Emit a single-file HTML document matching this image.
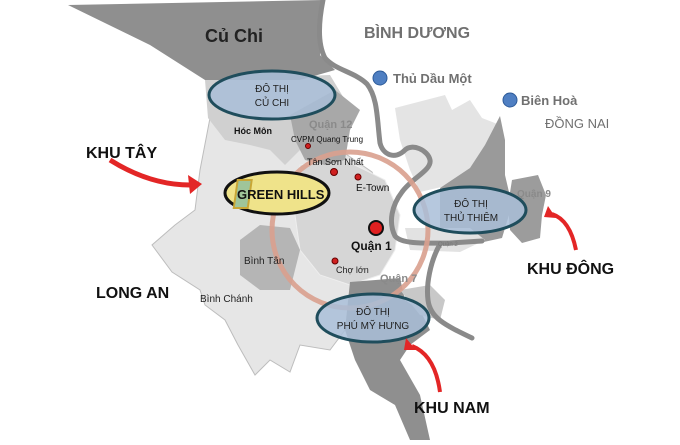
<!DOCTYPE html>
<html><head><meta charset="utf-8"><style>
body{margin:0;background:#fff}
svg{display:block}
text{font-family:"Liberation Sans",sans-serif}
</style></head><body>
<svg width="680" height="445" viewBox="0 0 680 445" xmlns="http://www.w3.org/2000/svg">
<rect width="680" height="445" fill="#fff"/>
<!-- light gray west -->
<polygon points="210,118 290,110 340,150 372,172 385,205 370,240 355,285 345,330 330,350 300,345 290,372 270,360 255,375 238,345 225,320 205,305 200,290 172,272 152,245 175,225 195,210 200,170" fill="#e6e6e6" stroke="#bdbdbd" stroke-width="1"/>
<!-- inner districts -->
<polygon points="300,165 345,160 385,180 400,215 395,250 380,275 350,285 320,275 300,250 295,215" fill="#d6d6d6" stroke="#eee" stroke-width="1"/>
<!-- Binh Tan -->
<polygon points="240,240 260,225 290,228 300,250 290,290 260,290 240,275" fill="#b5b5b5"/>
<!-- Hoc Mon / Q12 band -->
<polygon points="205,80 330,75 345,100 335,130 320,145 300,150 285,165 270,150 250,145 225,140 208,118" fill="#d0d0d0"/>
<polygon points="290,115 335,90 360,110 350,130 345,160 325,165 305,160 295,140" fill="#a8a8a8"/>
<!-- Cu Chi dark -->
<polygon points="68,5 323,0 320,55 335,70 300,80 260,80 205,80 150,45" fill="#8f8f8f"/>
<!-- NE light gray -->
<polygon points="395,108 445,95 452,110 470,100 482,118 500,125 505,150 480,160 450,185 420,192 410,170 400,140" fill="#e4e4e4"/>
<!-- Thu Duc dark -->
<polygon points="440,188 470,168 485,145 500,116 505,140 505,175 512,205 502,238 470,245 440,240" fill="#9a9a9a"/>
<!-- Quan 9 -->
<polygon points="512,180 538,175 546,195 542,215 540,238 522,243 510,230 508,205" fill="#9c9c9c"/>
<!-- Quan 2 -->
<polygon points="405,228 470,228 485,240 460,252 410,250" fill="#e2e2e2"/>
<!-- South district -->
<polygon points="350,282 400,278 405,300 420,310 430,330 410,345 400,360 420,395 430,440 410,440 395,405 370,390 355,360 345,330" fill="#8f8f8f"/>
<polygon points="400,290 430,285 445,300 440,320 420,315" fill="#c8c8c8"/>
<!-- river -->
<path d="M323,0 C318,25 318,45 325,58 C335,70 355,72 367,84 C378,98 377,120 380,143 C383,155 395,160 405,150 C412,143 428,150 430,160 C432,170 412,178 402,192 C392,205 388,222 395,236 C402,245 430,243 450,243 L482,241" fill="none" stroke="#8a8a8a" stroke-width="5" stroke-linecap="round" stroke-linejoin="round"/>
<path d="M440,244 C430,262 426,285 428,300 C430,318 445,325 472,338" fill="none" stroke="#8a8a8a" stroke-width="5" stroke-linecap="round"/>
<!-- orange ring -->
<circle cx="350" cy="230" r="78" fill="none" stroke="#d9a08e" stroke-width="5" opacity="0.9"/>
<!-- ellipses -->
<ellipse cx="272" cy="95" rx="63" ry="24" fill="#a9bed8" fill-opacity="0.85" stroke="#1f4d5c" stroke-width="3"/>
<ellipse cx="277" cy="193" rx="52" ry="21" fill="#efe38a" stroke="#111" stroke-width="3"/>
<rect x="263" y="180" width="14" height="28" fill="#9fc59a" stroke="#c8a636" stroke-width="2" transform="skewX(-8)"/>
<ellipse cx="470" cy="210" rx="56" ry="23" fill="#a9bed8" fill-opacity="0.85" stroke="#1f4d5c" stroke-width="3"/>
<ellipse cx="373" cy="318" rx="56" ry="24" fill="#a9bed8" fill-opacity="0.85" stroke="#1f4d5c" stroke-width="3"/>
<!-- dots -->
<circle cx="380" cy="78" r="7" fill="#4f7fc2" stroke="#2d5b99" stroke-width="1"/>
<circle cx="510" cy="100" r="7" fill="#4f7fc2" stroke="#2d5b99" stroke-width="1"/>
<circle cx="376" cy="228" r="7" fill="#e02020" stroke="#111" stroke-width="2"/>
<circle cx="334" cy="172" r="3.5" fill="#d02020" stroke="#600" stroke-width="1"/>
<circle cx="358" cy="177" r="3" fill="#d02020" stroke="#600" stroke-width="1"/>
<circle cx="308" cy="146" r="2.5" fill="#d02020" stroke="#600" stroke-width="1"/>
<circle cx="335" cy="261" r="3" fill="#d02020" stroke="#600" stroke-width="1"/>
<!-- arrows -->
<path d="M110,160 Q150,185 190,185" fill="none" stroke="#e32626" stroke-width="5"/>
<polygon points="188,175 202,184 190,194" fill="#e32626"/>
<path d="M576,250 Q570,220 552,214" fill="none" stroke="#e32626" stroke-width="4"/>
<polygon points="548,206 544,217 556,218" fill="#e32626"/>
<path d="M440,392 Q435,355 412,346" fill="none" stroke="#e32626" stroke-width="4"/>
<polygon points="406,338 404,350 416,350" fill="#e32626"/>
<!-- labels -->
<g font-weight="bold">
<text x="205" y="42" font-size="18" fill="#222">Củ Chi</text>
<text x="364" y="38" font-size="16" fill="#707070">BÌNH DƯƠNG</text>
<text x="393" y="83" font-size="13" fill="#707070">Thủ Dầu Một</text>
<text x="521" y="105" font-size="13" fill="#707070">Biên Hoà</text>
<text x="86" y="158" font-size="16" fill="#111">KHU TÂY</text>
<text x="96" y="298" font-size="16" fill="#111">LONG AN</text>
<text x="527" y="274" font-size="16" fill="#111">KHU ĐÔNG</text>
<text x="414" y="413" font-size="16" fill="#111">KHU NAM</text>
<text x="234" y="134" font-size="9" fill="#111">Hóc Môn</text>
<text x="309" y="128" font-size="11" fill="#8a8a8a">Quận 12</text>
<text x="237" y="199" font-size="13" fill="#111">GREEN HILLS</text>
<text x="351" y="250" font-size="12" fill="#111">Quận 1</text>
<text x="380" y="282" font-size="11" fill="#8a8a8a">Quận 7</text>
<text x="517" y="197" font-size="10" fill="#8a8a8a">Quận 9</text>
</g>
<text x="545" y="128" font-size="13" fill="#707070">ĐỒNG NAI</text>
<text x="291" y="142" font-size="8" fill="#111">CVPM Quang Trung</text>
<text x="307" y="165" font-size="9" fill="#111">Tân Sơn Nhất</text>
<text x="356" y="191" font-size="10" fill="#111">E-Town</text>
<text x="244" y="264" font-size="10" fill="#222">Bình Tân</text>
<text x="200" y="302" font-size="10" fill="#222">Bình Chánh</text>
<text x="336" y="273" font-size="9" fill="#222">Chợ lớn</text>
<text x="438" y="246" font-size="6" fill="#777">Quận 2</text>
<g font-size="10" fill="#222" text-anchor="middle">
<text x="272" y="92">ĐÔ THỊ</text><text x="272" y="106">CỦ CHI</text>
<text x="471" y="207">ĐÔ THỊ</text><text x="471" y="221">THỦ THIÊM</text>
<text x="373" y="315">ĐÔ THỊ</text><text x="373" y="329">PHÚ MỸ HƯNG</text>
</g>
</svg>
</body></html>
